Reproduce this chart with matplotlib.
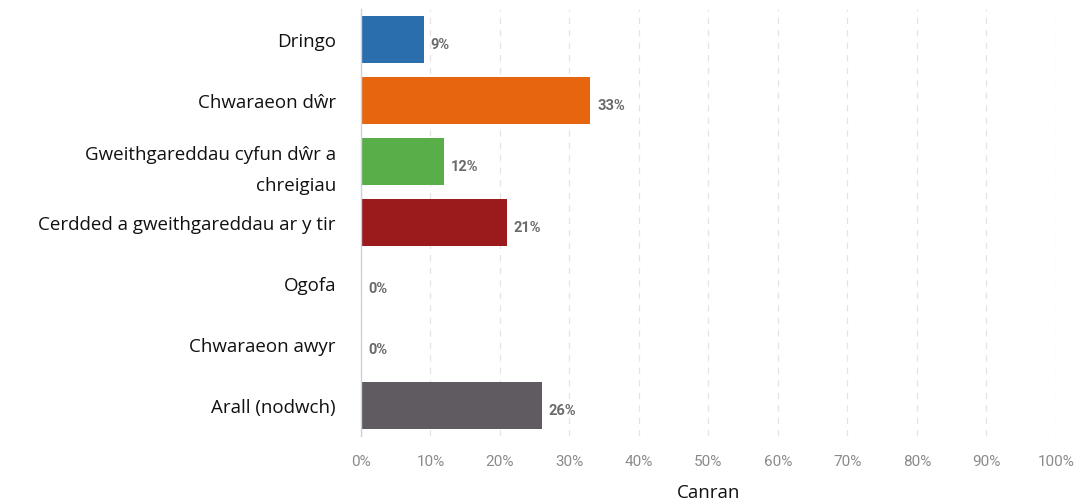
import matplotlib.pyplot as plt

# Data
categories = ['Dringo', 'Chwaraeon dŵr', 'Gweithgareddau cyfun dŵr a\nchreigiau',
              'Cerdded a gweithgareddau ar y tir', 'Ogofa', 'Chwaraeon awyr', 'Arall (nodwch)']
values = [9, 33, 12, 21, 0, 0, 26]
colors = ['#2b6ead', '#e8650f', '#59ae4a', '#9b1a1c', '#9b9b9b', '#9b9b9b', '#5f5b61']
xticks = list(range(0, 101, 10))

fig = plt.figure(figsize=(10.84, 5.02), dpi=100)
ax = fig.add_axes([0.333, 0.130, 0.641, 0.851])

pos = list(range(len(categories)))
ax.barh(pos, values, height=0.77, color=colors, zorder=3)
ax.set_ylim(len(categories) - 0.5, -0.5)
ax.set_xlim(0, 100)

for p, v in zip(pos, values):
    ax.text(v + 1.0, p + 0.08, f'{v}%', va='center', ha='left', fontsize=10.5,
            fontweight='bold', color='#6b6b6b', family='Roboto')

ax.set_yticks(pos)
ax.set_yticklabels(categories, fontsize=13.5, family='Open Sans', color='#111111',
                   linespacing=1.9)
ax.set_xticks(xticks)
ax.set_xticklabels([f'{t}%' for t in xticks], fontsize=11, family='Roboto', color='#8a8a8a')
ax.tick_params(axis='both', length=0)
ax.tick_params(axis='x', pad=13)
ax.tick_params(axis='y', pad=18)

ax.grid(axis='x', linestyle=(0, (5, 5)), color='#e4e4e4', linewidth=0.9, zorder=0)
for s in ['top', 'right', 'bottom']:
    ax.spines[s].set_visible(False)
ax.spines['left'].set_color('#c8d2e4')
ax.spines['left'].set_linewidth(1.0)
ax.spines['left'].set_zorder(4)

ax.set_xlabel('Canran', fontsize=13.5, family='Open Sans', color='#111111', labelpad=11)

fig.savefig('out.png', dpi=100)
